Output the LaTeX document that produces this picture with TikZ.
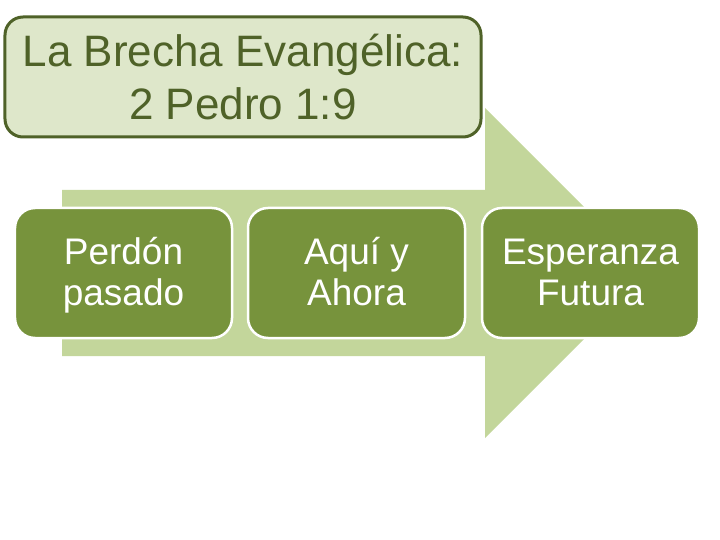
\documentclass[tikz,border=0pt]{standalone}
\usepackage{fontspec}
\setmainfont{Liberation Sans}
\definecolor{arrowgreen}{HTML}{C3D69B}
\definecolor{boxgreen}{HTML}{77933C}
\definecolor{titlefill}{HTML}{DEE7CA}
\definecolor{darkolive}{HTML}{4F6228}
\newcommand{\lnfix}{\vphantom{Íp}}
\tikzset{
  stagebox/.style={draw=white, line width=2.5bp, fill=boxgreen, rounded corners=20bp,
    minimum width=217bp, minimum height=130bp, text=white, align=center, inner sep=0pt,
    font=\fontsize{37bp}{39bp}\selectfont},
  titlebox/.style={draw=darkolive, line width=3bp, fill=titlefill, rounded corners=18bp,
    minimum width=476bp, minimum height=120bp, text=darkolive, align=center, inner sep=0pt,
    font=\fontsize{44bp}{53bp}\selectfont}
}
\begin{document}
\begin{tikzpicture}[x=1bp,y=-1bp]
\useasboundingbox (0,0) rectangle (720,540);
% big arrow
\fill[arrowgreen] (62,190) -- (485,190) -- (485,108) -- (650,273) -- (485,438) -- (485,356) -- (62,356) -- cycle;
% title
\node[titlebox] (title) at (243,77) {La Brecha Evangélica:\\2 Pedro 1:9};
% stages
\node[stagebox] (past) at (123.5,273) {\lnfix Perdón\\\lnfix pasado};
\node[stagebox] (now) at (356.5,273) {\lnfix Aquí y\\\lnfix Ahora};
\node[stagebox] (future) at (590.5,273) {\lnfix Esperanza\\\lnfix Futura};
\end{tikzpicture}
\end{document}
